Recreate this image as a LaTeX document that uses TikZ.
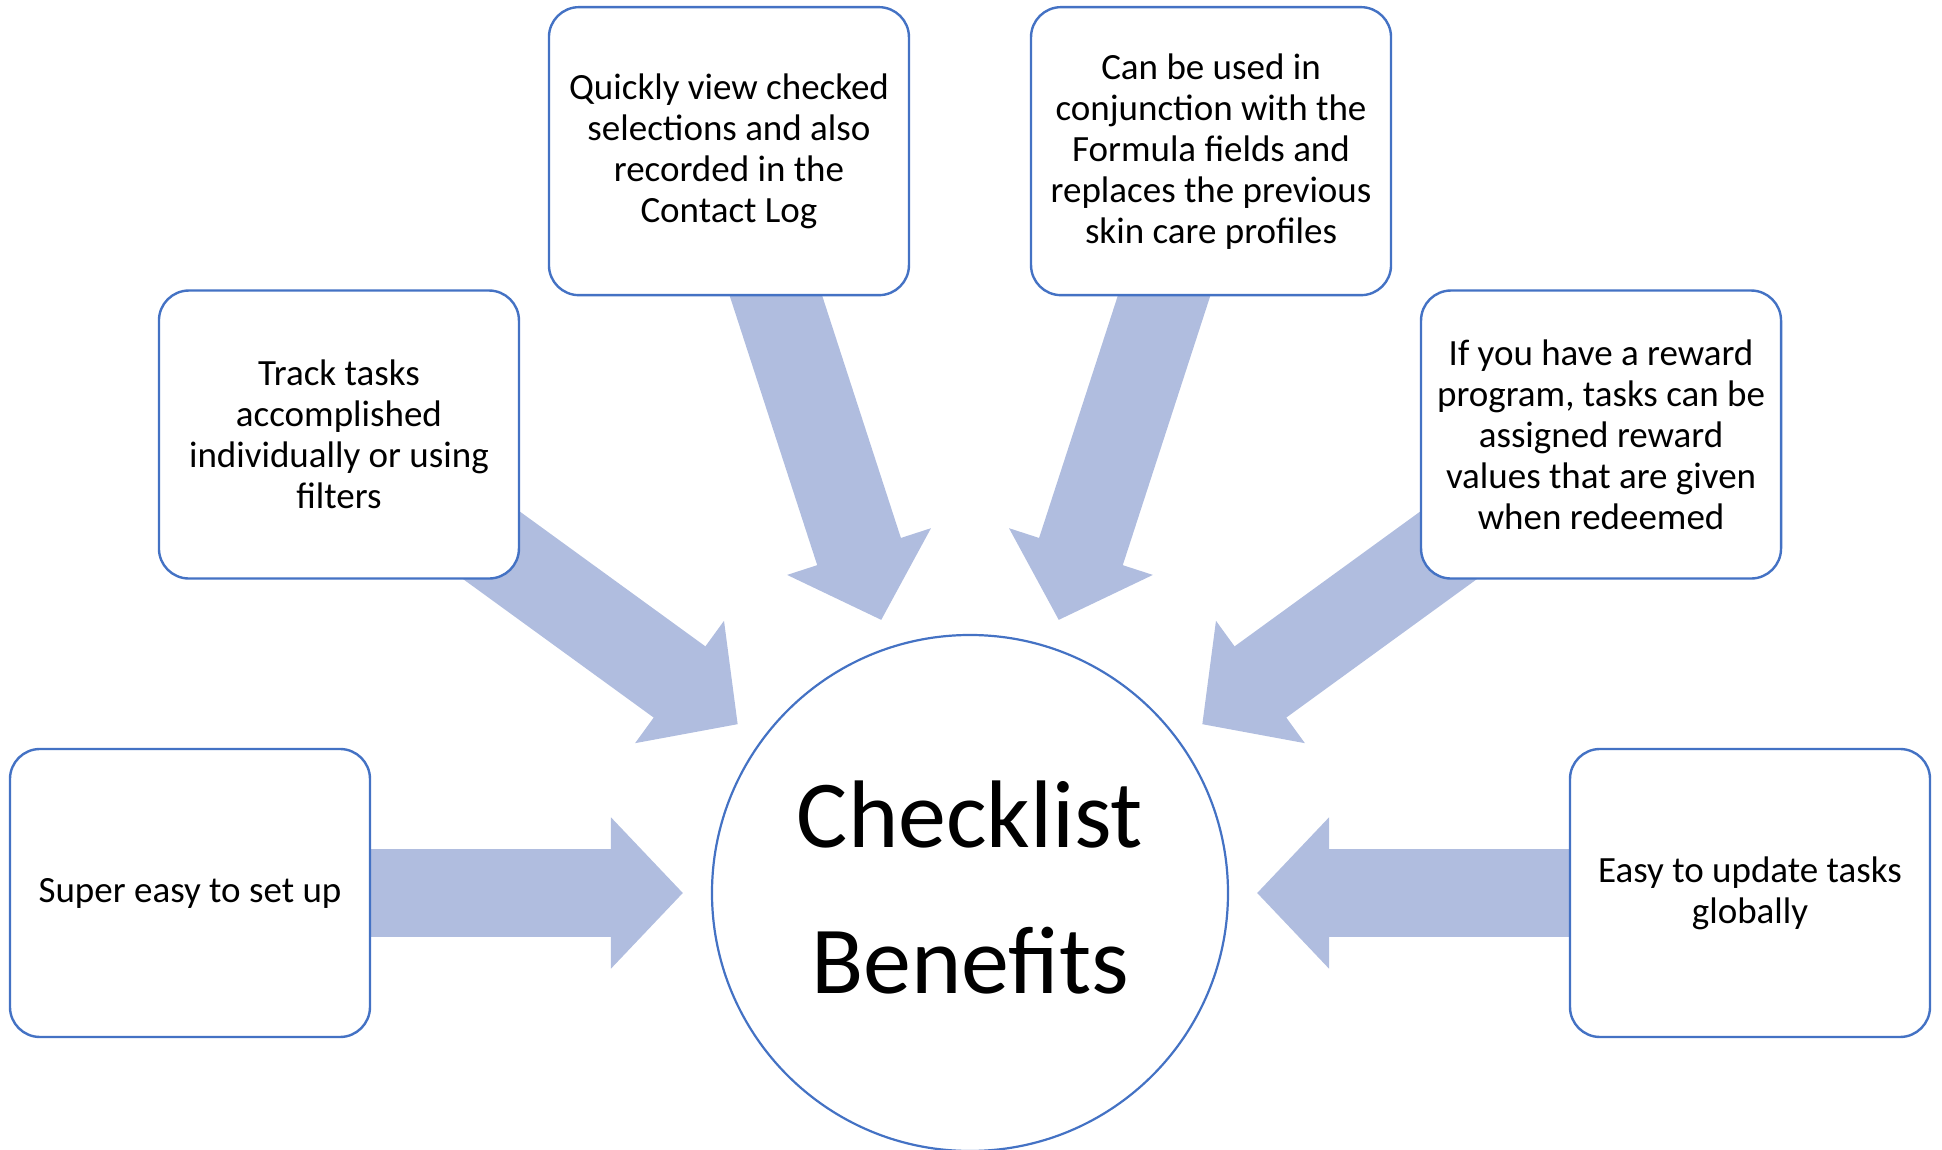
\documentclass[tikz,border=0pt]{standalone}
\usepackage{fontspec}
\setmainfont{Carlito}
\usetikzlibrary{arrows.meta,backgrounds}
\definecolor{boxblue}{RGB}{68,114,196}
\definecolor{arrowfill}{RGB}{176,189,223}
\tikzset{
  benefit/.style={draw=boxblue, line width=1.2pt, fill=white, rounded corners=15pt,
    minimum width=180pt, minimum height=144pt, inner sep=0pt, align=center,
    font=\fontsize{18.5}{20.5}\selectfont},
  hub/.style={draw=boxblue, line width=1.1pt, fill=white, circle, minimum size=258pt, inner sep=0pt},
  hubtext/.style={font=\fontsize{48}{58}\selectfont, inner sep=0pt, anchor=base},
  bigarrow/.style={arrowfill, line width=44pt,
    -{Triangle[width=73.5pt, length=36pt]}}
}
\begin{document}
\begin{tikzpicture}[x=0.5pt,y=0.5pt]
\useasboundingbox (-970,-257) rectangle (972,893);
\node[hub] (c) at (0,0) {};
\node[hubtext] (t1) at (0,45) {Checklist};
\node[hubtext] (t2) at (0,-101) {Benefits};
\node[benefit] (b1) at (180:780) {Super easy to set up};
\node[benefit] (b3) at (144:780) {Track tasks\\accomplished\\individually or using\\filters};
\node[benefit] (b2) at (108:780) {Quickly view checked\\selections and also\\recorded in the\\Contact Log};
\node[benefit] (b4) at (72:780) {Can be used in\\conjunction with the\\Formula fields and\\replaces the previous\\skin care profiles};
\node[benefit] (b5) at (36:780) {If you have a reward\\program, tasks can be\\assigned reward\\values that are given\\when redeemed};
\node[benefit] (b6) at (0:780) {Easy to update tasks\\globally};
\coordinate (e1) at (180:287);
\coordinate (e3) at (144:287);
\coordinate (e2) at (108:287);
\coordinate (e4) at (72:287);
\coordinate (e5) at (36:287);
\coordinate (e6) at (0:287);
\begin{pgfonlayer}{background}
\foreach \i in {1,...,6}{
  \draw[bigarrow] (b\i.center) -- (e\i);
}
\end{pgfonlayer}
\end{tikzpicture}
\end{document}
